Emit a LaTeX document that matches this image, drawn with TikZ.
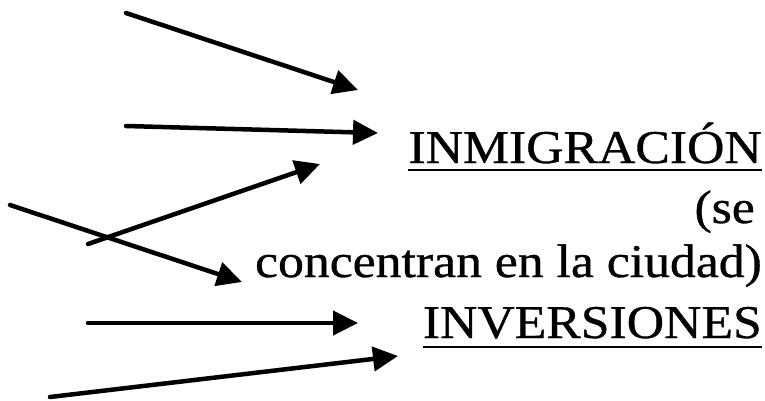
\documentclass[tikz,border=0pt]{standalone}
\usepackage{fontspec}
\setmainfont{Liberation Serif}
\newfontfamily\reffont{Liberation Serif}[FakeBold=0.7]
\usetikzlibrary{arrows.meta}
\begin{document}
\begin{tikzpicture}[x=1pt,y=-1pt,
  arr/.style={line width=4.5pt, line cap=round, -{Triangle[length=25pt,width=24pt]}},
  txt/.style={anchor=base east, inner sep=0pt, font=\reffont\fontsize{47}{56}\selectfont},
  uline/.style={line width=2.5pt}]
\useasboundingbox (0,0) rectangle (765,400);
% arrow end points
\coordinate (s1) at (126,13);  \coordinate (e1) at (358,90);
\coordinate (s2) at (126,126); \coordinate (e2) at (378,133);
\coordinate (s3) at (88,244);  \coordinate (e3) at (320,164);
\coordinate (s4) at (10,205);  \coordinate (e4) at (242,282);
\coordinate (s5) at (88,323);  \coordinate (e5) at (358,323);
\coordinate (s6) at (50,397);  \coordinate (e6) at (398,356);
\draw[arr] (s1) -- (e1);
\draw[arr] (s2) -- (e2);
\draw[arr] (s3) -- (e3);
\draw[arr] (s4) -- (e4);
\draw[arr] (s5) -- (e5);
\draw[arr] (s6) -- (e6);
% texts
\node[txt] (inm) at (762,163) {\scalebox{1.1}[1]{INMIGRACIÓN}};
\node[txt] (se) at (755,223) {\scalebox{1.1}[1]{(se}};
\node[txt] (conc) at (762,277) {\scalebox{1.1}[1]{concentran en la ciudad)}};
\node[txt] (inv) at (762,338) {\scalebox{1.1}[1]{INVERSIONES}};
\draw[uline] ([yshift=-7pt]inm.base west) -- ([yshift=-7pt]inm.base east);
\draw[uline] ([yshift=-9pt]inv.base west) -- ([yshift=-9pt]inv.base east);
\end{tikzpicture}
\end{document}
